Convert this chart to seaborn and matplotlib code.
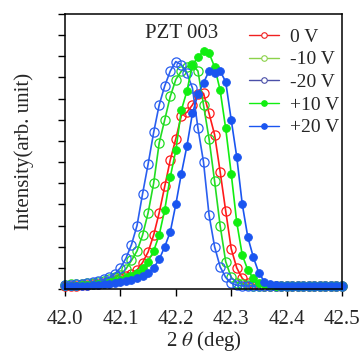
import numpy as np
import pandas as pd
import matplotlib
matplotlib.use('Agg')
import matplotlib.pyplot as plt
import seaborn as sns
from matplotlib.lines import Line2D

# 2theta scan grid (deg), 42.00 .. 42.50 in 0.01 steps
two_theta = [42.00, 42.01, 42.02, 42.03, 42.04, 42.05, 42.06, 42.07, 42.08, 42.09,
             42.10, 42.11, 42.12, 42.13, 42.14, 42.15, 42.16, 42.17, 42.18, 42.19,
             42.20, 42.21, 42.22, 42.23, 42.24, 42.25, 42.26, 42.27, 42.28, 42.29,
             42.30, 42.31, 42.32, 42.33, 42.34, 42.35, 42.36, 42.37, 42.38, 42.39,
             42.40, 42.41, 42.42, 42.43, 42.44, 42.45, 42.46, 42.47, 42.48, 42.49,
             42.50]

# intensities (arb. unit)
i_0v = [0.15, 0.15, 0.16, 0.17, 0.19, 0.22, 0.25, 0.30, 0.35, 0.42,
        0.50, 0.60, 0.72, 0.90, 1.25, 1.75, 2.55, 3.60, 4.85, 6.10,
        7.10, 8.20, 8.35, 8.70, 9.20, 9.25, 8.30, 7.30, 5.55, 3.70,
        1.90, 1.00, 0.50, 0.30, 0.22, 0.18, 0.15, 0.15, 0.14, 0.14,
        0.14, 0.14, 0.14, 0.14, 0.14, 0.14, 0.14, 0.14, 0.14, 0.14,
        0.14]
i_m10v = [0.20, 0.22, 0.24, 0.26, 0.28, 0.30, 0.34, 0.40, 0.47, 0.55,
          0.68, 0.95, 1.35, 1.80, 2.55, 3.60, 5.00, 6.90, 8.00, 9.10,
          9.90, 10.30, 10.50, 10.60, 10.30, 8.70, 7.10, 5.10, 3.00, 1.30,
          0.55, 0.30, 0.22, 0.18, 0.16, 0.15, 0.15, 0.14, 0.14, 0.14,
          0.14, 0.14, 0.14, 0.14, 0.14, 0.14, 0.14, 0.14, 0.14, 0.14,
          0.14]
i_m20v = [0.18, 0.20, 0.22, 0.25, 0.28, 0.32, 0.38, 0.45, 0.55, 0.72,
          1.00, 1.45, 2.10, 3.00, 4.50, 5.90, 7.40, 8.70, 9.60, 10.30,
          10.75, 10.60, 10.20, 9.50, 7.60, 6.00, 3.50, 2.00, 1.05, 0.55,
          0.28, 0.18, 0.15, 0.14, 0.14, 0.14, 0.14, 0.14, 0.14, 0.14,
          0.14, 0.14, 0.14, 0.14, 0.14, 0.14, 0.14, 0.14, 0.14, 0.14,
          0.14]
i_p10v = [0.15, 0.15, 0.16, 0.17, 0.18, 0.20, 0.22, 0.26, 0.30, 0.36,
          0.42, 0.50, 0.60, 0.75, 1.00, 1.30, 1.80, 2.55, 3.75, 5.30,
          6.55, 8.45, 9.35, 10.60, 10.95, 11.25, 11.15, 10.50, 9.40, 7.60,
          5.45, 3.15, 1.60, 0.90, 0.50, 0.30, 0.22, 0.18, 0.15, 0.15,
          0.15, 0.15, 0.15, 0.15, 0.15, 0.15, 0.15, 0.15, 0.15, 0.15,
          0.15]
i_p20v = [0.12, 0.13, 0.14, 0.15, 0.16, 0.17, 0.20, 0.22, 0.25, 0.28,
          0.32, 0.36, 0.42, 0.50, 0.60, 0.75, 1.00, 1.40, 2.00, 2.70,
          4.00, 5.45, 6.75, 8.30, 9.20, 9.75, 10.30, 10.20, 10.30, 9.80,
          8.00, 6.25, 4.00, 2.45, 1.50, 0.75, 0.35, 0.22, 0.18, 0.16,
          0.16, 0.16, 0.16, 0.16, 0.16, 0.16, 0.16, 0.16, 0.16, 0.16,
          0.16]

labels = ['0 V', '-10 V', '-20 V', '+10 V', '+20 V']
series = [i_0v, i_m10v, i_m20v, i_p10v, i_p20v]
line_colors = ['#ff1a1a', '#22dd22', '#2a5ff0', '#11ee11', '#1a55f0']
legend_colors = ['#f02020', '#8cd24a', '#4a4fa8', '#11ee11', '#1a55f0']
filled = [False, False, False, True, True]

df = pd.DataFrame({'two_theta': two_theta})
for lab, vals in zip(labels, series):
    df[lab] = vals

sns.set_style('ticks')
plt.rcParams['font.family'] = ['Liberation Serif', 'DejaVu Serif']
plt.rcParams['mathtext.fontset'] = 'stix'

fig = plt.figure(figsize=(3.6, 3.54), dpi=100)
ax = fig.add_axes([0.1806, 0.1836, 0.7694, 0.7769])

for lab, col, fl in zip(labels, line_colors, filled):
    if fl:
        sns.lineplot(data=df, x='two_theta', y=lab, ax=ax, color=col, lw=1.2,
                     marker='o', markersize=5.6, markerfacecolor=col,
                     markeredgecolor=col, markeredgewidth=0.6, clip_on=False)
    else:
        sns.lineplot(data=df, x='two_theta', y=lab, ax=ax, color=col, lw=1.2,
                     marker='o', markersize=6.6, markerfacecolor='none',
                     markeredgecolor=col, markeredgewidth=0.9, clip_on=False)

ax.set_xlim(42.0, 42.5)
ax.set_ylim(0, 13)
ax.set_xticks([42.0, 42.1, 42.2, 42.3, 42.4, 42.5])
ax.set_xticklabels(['42.0', '42.1', '42.2', '42.3', '42.4', '42.5'], fontsize=15)
ax.set_yticks(range(0, 14))
ax.set_yticklabels([])
ax.tick_params(axis='both', direction='out', length=5, width=1.0, color='black')
ax.tick_params(axis='x', pad=10)
for sp in ax.spines.values():
    sp.set_linewidth(1.1)
    sp.set_color('black')

ax.set_xlabel('2 $\\theta$ (deg)', fontsize=15, labelpad=0)
ax.set_ylabel('Intensity(arb. unit)', fontsize=15, labelpad=14)

ax.text(0.422, 0.93, 'PZT 003', transform=ax.transAxes, ha='center', va='center',
        fontsize=15)

handles = []
for col, fl in zip(legend_colors, filled):
    handles.append(Line2D([0], [0], color=col, lw=1.0, marker='o', markersize=4,
                          markerfacecolor=col if fl else 'white',
                          markeredgecolor=col, markeredgewidth=0.8))
ax.legend(handles, labels, loc='upper left', bbox_to_anchor=(0.651, 0.963),
          frameon=False, fontsize=14, handlelength=1.55, handletextpad=0.55,
          labelspacing=0.26, borderpad=0.2, borderaxespad=0)

fig.savefig('out.png', dpi=100)
